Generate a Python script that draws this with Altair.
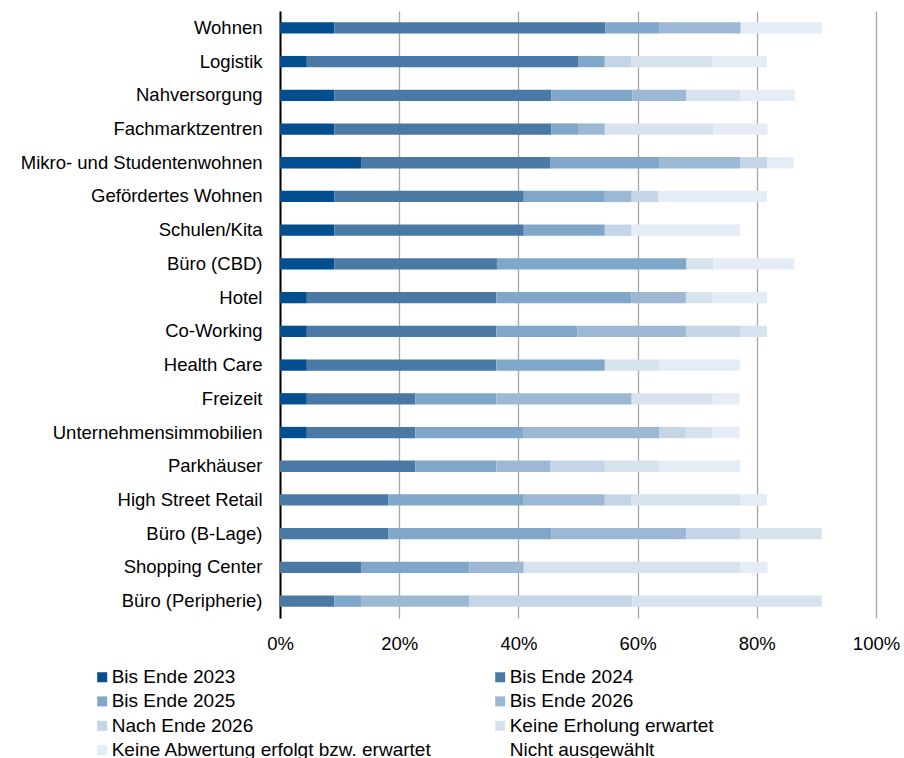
import altair as alt
import pandas as pd

categories = [
    "Wohnen", "Logistik", "Nahversorgung", "Fachmarktzentren",
    "Mikro- und Studentenwohnen", "Gefördertes Wohnen", "Schulen/Kita",
    "Büro (CBD)", "Hotel", "Co-Working", "Health Care", "Freizeit",
    "Unternehmensimmobilien", "Parkhäuser", "High Street Retail",
    "Büro (B-Lage)", "Shopping Center", "Büro (Peripherie)",
]

series = [
    "Bis Ende 2023", "Bis Ende 2024", "Bis Ende 2025", "Bis Ende 2026",
    "Nach Ende 2026", "Keine Erholung erwartet",
    "Keine Abwertung erfolgt bzw. erwartet", "Nicht ausgewählt",
]

# shares in percent, one list per series (same order as categories)
bis_2023 = [9.1, 4.5, 9.1, 9.1, 13.6, 9.1, 9.1, 9.1, 4.5, 4.5, 4.5, 4.5, 4.5, 0, 0, 0, 0, 0]
bis_2024 = [45.5, 45.5, 36.4, 36.4, 31.8, 31.8, 31.8, 27.3, 31.8, 31.8, 31.8, 18.2, 18.2, 22.7, 18.2, 18.2, 13.6, 9.1]
bis_2025 = [9.1, 4.5, 13.6, 4.5, 18.2, 13.6, 13.6, 31.8, 22.7, 13.6, 18.2, 13.6, 18.2, 13.6, 22.7, 27.3, 18.2, 4.5]
bis_2026 = [13.6, 0, 9.1, 4.5, 13.6, 4.5, 0, 0, 9.1, 18.2, 0, 22.7, 22.7, 9.1, 13.6, 22.7, 9.1, 18.2]
nach_2026 = [0, 4.5, 0, 0, 4.5, 4.5, 4.5, 0, 0, 9.1, 0, 0, 4.5, 9.1, 4.5, 9.1, 0, 27.3]
keine_erholung = [0, 13.6, 9.1, 18.2, 0, 0, 0, 4.5, 4.5, 4.5, 9.1, 13.6, 4.5, 9.1, 18.2, 13.6, 36.4, 31.8]
keine_abwertung = [13.6, 9.1, 9.1, 9.1, 4.5, 18.2, 18.2, 13.6, 9.1, 0, 13.6, 4.5, 4.5, 13.6, 4.5, 0, 4.5, 0]
nicht_ausgewaehlt = [9.1, 18.2, 13.6, 18.2, 13.6, 18.2, 22.7, 13.6, 18.2, 18.2, 22.7, 22.7, 22.7, 22.7, 18.2, 9.1, 18.2, 9.1]

x_ticks = [0, 20, 40, 60, 80, 100]

colors = ["#024E8E", "#4A79A5", "#80A6C9", "#9CB8D5", "#C3D5E6", "#D6E2EE", "#E4ECF5", "transparent"]

all_values = [bis_2023, bis_2024, bis_2025, bis_2026, nach_2026,
              keine_erholung, keine_abwertung, nicht_ausgewaehlt]

rows = []
for si, (s, vals) in enumerate(zip(series, all_values)):
    for c, v in zip(categories, vals):
        rows.append({"Kategorie": c, "Serie": s, "Anteil": v, "idx": si})
df = pd.DataFrame(rows)

FONT = "Liberation Sans"

chart = alt.Chart(df).mark_bar().encode(
    y=alt.Y("Kategorie:N", sort=categories, title=None,
            scale=alt.Scale(paddingInner=0.665, paddingOuter=0.3325),
            axis=alt.Axis(labelFont=FONT, labelFontSize=18.5, labelColor="#000000",
                          labelPadding=18, ticks=False, domainColor="#000000",
                          domainWidth=2, grid=False, labelLimit=300)),
    x=alt.X("Anteil:Q", stack="zero", title=None,
            scale=alt.Scale(domain=[0, 100], nice=False),
            axis=alt.Axis(values=x_ticks, labelExpr="datum.value + '%'",
                          labelFont=FONT, labelFontSize=18.5, labelColor="#000000",
                          labelPadding=16, ticks=False, domain=False, labelFlush=False,
                          grid=True, gridColor="#A6A6A6", gridWidth=1.3)),
    color=alt.Color("Serie:N", title=None,
                    scale=alt.Scale(domain=series, range=colors),
                    legend=alt.Legend(orient="none", legendX=-187.3, legendY=656.5,
                                      direction="horizontal",
                                      columns=2, columnPadding=58, rowPadding=4.4,
                                      symbolType="square", symbolSize=100,
                                      symbolStrokeWidth=0, labelOffset=0,
                                      labelFont=FONT, labelFontSize=19,
                                      labelColor="#000000", labelLimit=400,
                                      padding=0)),
    order=alt.Order("idx:Q", sort="ascending"),
).properties(
    width=596, height=607,
    autosize=alt.AutoSizeParams(type="none"),
    padding={"left": 280, "top": 11, "right": 28, "bottom": 140},
).configure_view(stroke=None)

chart.save("out.html", embed_options={"renderer": "svg", "actions": False})
